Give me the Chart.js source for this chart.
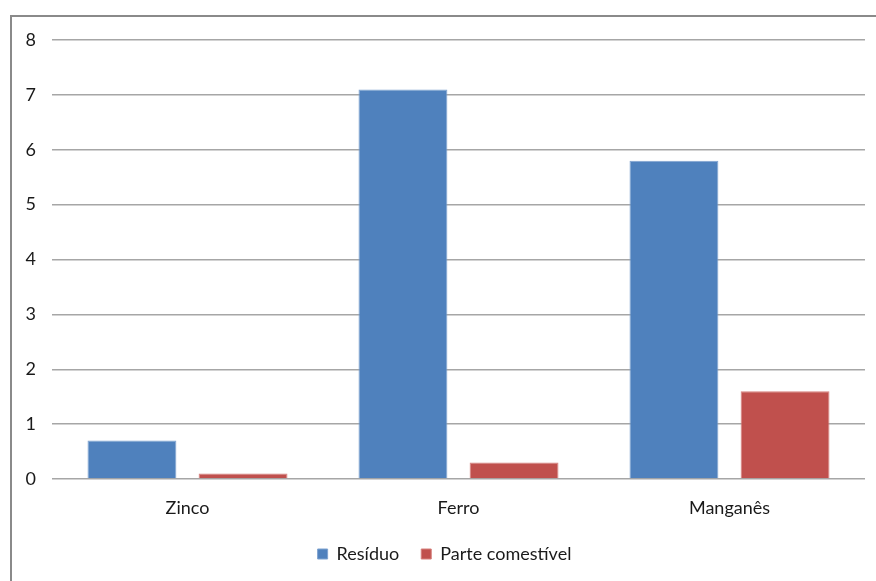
<!DOCTYPE html>
<html>
<head>
<meta charset="utf-8">
<script src="https://cdn.jsdelivr.net/npm/chart.js@4"></script>
<style>
  html, body { margin: 0; padding: 0; background: #fff; overflow: hidden; }
  #wrap { position: relative; width: 876px; height: 581px; }
  #frame { position: absolute; left: 10px; top: 15px; width: 880px; height: 580px; border: 2px solid #8a8a8a; pointer-events: none; }
  canvas { position: absolute; left: 0; top: 0; }
</style>
</head>
<body>
<div id="wrap">
  <canvas id="chart" width="876" height="581"></canvas>
  <div id="frame"></div>
</div>
<script>
const categories = ['Zinco', 'Ferro', 'Manganês'];
const residuo = [0.7, 7.1, 5.8];
const parteComestivel = [0.1, 0.3, 1.6];
const yMin = 0, yMax = 8, yStep = 1;

const FONT = 'Lato, "Liberation Sans", sans-serif';

new Chart(document.getElementById('chart'), {
    type: 'bar',
    data: {
        labels: categories,
        datasets: [
            { label: 'Resíduo', data: residuo, backgroundColor: '#4f81bd', borderColor: '#7fa3d0', borderWidth: 1 },
            { label: 'Parte comestível', data: parteComestivel, backgroundColor: '#c0504d', borderColor: '#d6807d', borderWidth: 1 }
        ]
    },
    options: {
        responsive: false,
        animation: false,
        categoryPercentage: 0.82,
        barPercentage: 0.80,
        layout: { padding: { left: 24, right: 11, top: 40, bottom: 8 } },
        plugins: {
            tooltip: { enabled: false },
            legend: {
                position: 'bottom',
                labels: {
                    boxWidth: 10, boxHeight: 10, padding: 22,
                    color: '#1a1a1a',
                    font: { family: FONT, size: 18 }
                }
            }
        },
        scales: {
            x: {
                grid: { display: false },
                border: { display: false },
                ticks: { color: '#1a1a1a', padding: 10, font: { family: FONT, size: 18 } },
                afterFit: s => { s.height = 44; }
            },
            y: {
                min: yMin, max: yMax,
                grid: { color: '#a6a6a6', lineWidth: 1.5, drawTicks: false },
                border: { display: false },
                ticks: { stepSize: yStep, color: '#1a1a1a', padding: 16, font: { family: FONT, size: 18 } },
                // labels are clipped to the axis box, so it must be wide enough to hold them
                afterFit: s => { s.width = 28; }
            }
        }
    }
});
</script>
</body>
</html>
